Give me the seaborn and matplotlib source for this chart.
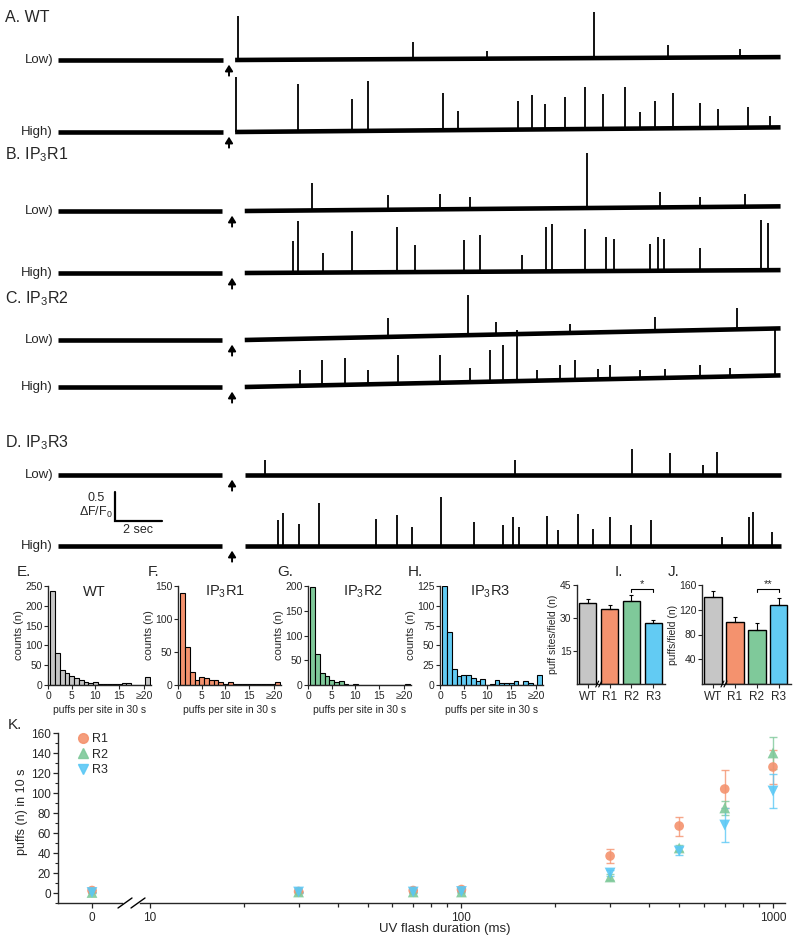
import numpy as np
import pandas as pd
import matplotlib
matplotlib.use("Agg")
import matplotlib.pyplot as plt
import seaborn as sns
from matplotlib.lines import Line2D
from matplotlib.ticker import NullFormatter, MultipleLocator, FixedLocator

# ---------------- DATA ----------------
# Traces: spike times (s after flash) and amplitudes (dF/F0)
a_low_t = [0.21, 7.66, 10.81, 15.36, 18.51, 21.57]
a_low_a = [0.76, 0.29, 0.14, 0.79, 0.22, 0.14]
a_high_t = [0.13, 2.77, 5.06, 5.74, 8.94, 9.57, 12.13, 12.72, 13.28, 14.13, 14.98, 15.74,
            16.68, 17.32, 17.96, 18.72, 19.87, 20.64, 21.91, 22.85]
a_high_a = [0.95, 0.81, 0.55, 0.86, 0.64, 0.33, 0.5, 0.6, 0.43, 0.55, 0.72, 0.6,
            0.72, 0.29, 0.47, 0.6, 0.43, 0.33, 0.36, 0.2]
b_low_t = [3.36, 6.60, 8.81, 10.09, 15.06, 18.17, 19.87, 21.79]
b_low_a = [0.47, 0.26, 0.26, 0.21, 0.95, 0.26, 0.17, 0.21]
b_high_t = [2.55, 2.77, 3.83, 5.06, 6.98, 7.74, 9.83, 10.51, 12.30, 13.32, 13.57, 14.98,
            15.87, 16.21, 17.74, 18.09, 18.34, 19.87, 22.47, 22.77]
b_high_a = [0.55, 0.9, 0.34, 0.72, 0.78, 0.47, 0.55, 0.64, 0.29, 0.76, 0.81, 0.72,
            0.59, 0.55, 0.47, 0.59, 0.55, 0.38, 0.86, 0.82]
c_low_t = [6.60, 10.0, 11.19, 14.34, 17.96, 21.45]
c_low_a = [0.33, 0.7, 0.22, 0.16, 0.25, 0.37]
c_high_t = [2.85, 3.79, 4.77, 5.74, 7.02, 8.81, 10.09, 10.94, 11.49, 12.09, 12.94, 13.91,
            14.55, 15.53, 16.04, 17.32, 18.38, 19.87, 21.15, 23.06]
c_high_a = [0.27, 0.44, 0.46, 0.24, 0.49, 0.48, 0.24, 0.55, 0.62, 0.88, 0.18, 0.26,
            0.34, 0.18, 0.24, 0.15, 0.15, 0.21, 0.15, 0.78]
d_low_t = [1.36, 12.0, 16.98, 18.60, 20.0, 20.6]
d_low_a = [0.26, 0.26, 0.45, 0.38, 0.17, 0.4]
d_high_t = [1.91, 2.13, 2.81, 3.66, 6.09, 6.98, 7.62, 8.85, 10.26, 11.49, 11.91, 12.17,
            13.36, 13.83, 14.68, 15.32, 16.04, 16.94, 17.79, 20.81, 21.96, 22.13, 22.94]
d_high_a = [0.45, 0.57, 0.38, 0.74, 0.47, 0.53, 0.33, 0.85, 0.41, 0.36, 0.5, 0.33,
            0.52, 0.28, 0.56, 0.3, 0.5, 0.37, 0.44, 0.16, 0.5, 0.58, 0.24]
trace_drift = {"A_low": 0.05, "A_high": 0.08, "B_low": 0.08, "B_high": 0.05,
               "C_low": 0.2, "C_high": 0.2, "D_low": 0.0, "D_high": 0.0}

# Histograms (puffs per site in 30 s), bins 1..20 and >=20
hist_bins = list(range(1, 22))
hist_wt = [238, 81, 37, 30, 23, 17, 12, 8, 5, 8, 3, 3, 3, 2, 2, 4, 5, 1, 1, 1, 19]
hist_r1 = [140, 57, 20, 8, 12, 11, 7, 8, 5, 2, 5, 1, 2, 1, 1, 1, 2, 1, 1, 1, 5]
hist_r2 = [198, 63, 25, 18, 10, 6, 8, 2, 1, 3, 1, 1, 1, 1, 1, 1, 1, 1, 1, 1, 3]
hist_r3 = [125, 67, 20, 11, 13, 13, 9, 5, 7, 0, 1, 6, 3, 2, 2, 5, 0, 5, 2, 0, 13]
hist_xticklabels = ["0", "5", "10", "15", "\u226520"]

# Bar charts
bar_groups = ["WT", "R1", "R2", "R3"]
sites_mean = [37, 34.2, 37.6, 27.6]
sites_err = [1.5, 1.8, 3.0, 1.5]
puffs_mean = [141, 101, 88, 128]
puffs_err = [9, 8, 10, 11]

# Panel K
durations = [0, 30, 70, 100, 300, 500, 700, 1000]
r1_mean = [2.5, 1.5, 2.5, 3.5, 37, 67, 104, 126]
r1_err = [1, 0.5, 1, 1.5, 7, 9.5, 19, 17]
r2_mean = [0.5, 1, 1, 1, 16, 45, 85, 140]
r2_err = [0.5, 0.5, 0.5, 0.5, 3, 3, 7, 16]
r3_mean = [0.5, 1, 1, 1.5, 20, 42, 68, 102]
r3_err = [0.5, 0.5, 0.5, 0.5, 3, 4, 17, 17]

# ---------------- STYLE ----------------
sns.set_theme(style="ticks")
plt.rcParams['font.family'] = ['Liberation Sans', 'DejaVu Sans']
plt.rcParams['mathtext.fontset'] = 'custom'
plt.rcParams['mathtext.rm'] = 'Liberation Sans'
plt.rcParams['mathtext.it'] = 'Liberation Sans:italic'
plt.rcParams['mathtext.bf'] = 'Liberation Sans:bold'
plt.rcParams['axes.linewidth'] = 1.0
plt.rcParams['xtick.major.width'] = 0.9
plt.rcParams['ytick.major.width'] = 0.9

C_GRAY = '#C6C6C6'
C_R1 = '#F4926E'
C_R2 = '#7FC99A'
C_R3 = '#62CBF3'

W, H = 800, 943
fig = plt.figure(figsize=(8, 9.43), dpi=100)


def box(l, t, r, b):
    return [l / W, 1 - b / H, (r - l) / W, (b - t) / H]


def ftext(x, y, s, **kw):
    kw.setdefault('va', 'center')
    fig.text(x / W, 1 - y / H, s, **kw)


# ---------------- TRACES ----------------
PX_PER_S = 23.5
PX_PER_U = 58.0
T0_PX = 233
ax_tr = fig.add_axes(box(0, 0, 800, 570))
ax_tr.set_xlim((0 - T0_PX) / PX_PER_S, (800 - T0_PX) / PX_PER_S)
ax_tr.set_ylim(-570 / PX_PER_U, 0)
ax_tr.axis('off')

T_START, T_END = -7.45, 23.3

traces = [
    ("A_low", a_low_t, a_low_a, 60, -0.43, 0.09, -0.17, "Low)"),
    ("A_high", a_high_t, a_high_a, 132, -0.43, 0.09, -0.17, "High)"),
    ("B_low", b_low_t, b_low_a, 211, -0.45, 0.5, -0.04, "Low)"),
    ("B_high", b_high_t, b_high_a, 273, -0.45, 0.5, -0.04, "High)"),
    ("C_low", c_low_t, c_low_a, 340, -0.45, 0.5, -0.04, "Low)"),
    ("C_high", c_high_t, c_high_a, 387, -0.45, 0.5, -0.04, "High)"),
    ("D_low", d_low_t, d_low_a, 475, -0.45, 0.5, -0.04, "Low)"),
    ("D_high", d_high_t, d_high_a, 546, -0.45, 0.5, -0.04, "High)"),
]

for key, ts, amps, base_px, pre_end, post_start, arrow_t, lab in traces:
    b = -base_px / PX_PER_U
    drift = trace_drift[key]
    ax_tr.plot([T_START, pre_end], [b, b], color='black', lw=3.3, solid_capstyle='butt')
    ax_tr.plot([post_start, T_END], [b, b + drift], color='black', lw=3.3, solid_capstyle='butt')
    for t, a in zip(ts, amps):
        lb = b + drift * (t - post_start) / (T_END - post_start)
        ax_tr.plot([t, t], [lb, lb + a], color='black', lw=1.3, solid_capstyle='butt')
    ax_tr.annotate('', xy=(arrow_t, b - 0.08), xytext=(arrow_t, b - 0.27),
                   arrowprops=dict(arrowstyle='-|>,head_length=0.45,head_width=0.28',
                                   color='black', lw=1.4, mutation_scale=8,
                                   shrinkA=0, shrinkB=0))
    ftext(53, base_px, lab, ha='right', fontsize=9.5)

ftext(5, 17, "A. WT", ha='left', fontsize=11.5)
ftext(5, 155, "B. IP$_3$R1", ha='left', fontsize=11.5)
ftext(5, 299, "C. IP$_3$R2", ha='left', fontsize=11.5)
ftext(5, 443, "D. IP$_3$R3", ha='left', fontsize=11.5)

# scale bar
sb_t = (115 - T0_PX) / PX_PER_S
sb_y = -521 / PX_PER_U
ax_tr.plot([sb_t, sb_t, sb_t + 2], [sb_y + 0.5, sb_y, sb_y], color='black', lw=1.6,
           solid_joinstyle='miter')
ftext(96, 498, "0.5", ha='center', fontsize=9)
ftext(113, 512, "\u0394F/F$_0$", ha='right', fontsize=9)
ftext(138, 530, "2 sec", ha='center', fontsize=9)

# ---------------- HISTOGRAMS ----------------
hist_specs = [
    (hist_wt, C_GRAY, 48, 151, 250, [0, 50, 100, 150, 200, 250], "WT", 94, "E.", 17),
    (hist_r1, C_R1, 178, 281, 150, [0, 50, 100, 150], "IP$_3$R1", 225, "F.", 148),
    (hist_r2, C_R2, 308, 411, 200, [0, 50, 100, 150, 200], "IP$_3$R2", 363, "G.", 277),
    (hist_r3, C_R3, 440, 543, 125, [0, 25, 50, 75, 100, 125], "IP$_3$R3", 490, "H.", 408),
]
edges = [0.5 + i for i in range(22)]
for counts, col, l, r, ymax, yt, title, tx, letter, lx in hist_specs:
    ax = fig.add_axes(box(l, 586, r, 685))
    hdf = pd.DataFrame({"puffs": hist_bins, "count": counts})
    sns.histplot(data=hdf, x="puffs", weights="count", bins=edges, color=col, alpha=1,
                 edgecolor='black', linewidth=0.8, ax=ax)
    ax.set_xlim(0, 21.7)
    ax.set_ylim(0, ymax)
    ax.set_yticks(yt)
    ax.set_xticks([0, 5, 10, 15, 20.3])
    ax.set_xticklabels(hist_xticklabels)
    ax.tick_params(axis='both', labelsize=7.5, length=3, width=0.8, pad=1)
    ax.set_ylabel("counts (n)", fontsize=8, labelpad=1)
    ax.set_xlabel("puffs per site in 30 s", fontsize=7.5, labelpad=3)
    sns.despine(ax=ax)
    ftext(tx, 592, title, ha='center', fontsize=10.5)
    ftext(lx, 572, letter, ha='left', fontsize=11)

# ---------------- BAR CHARTS I, J ----------------
pal = {"WT": C_GRAY, "R1": C_R1, "R2": C_R2, "R3": C_R3}
bar_specs = [
    (sites_mean, sites_err, 577, 665, 45, [15, 30, 45], "puff sites/field (n)", "*", 615, "I."),
    (puffs_mean, puffs_err, 702, 791, 160, [40, 80, 120, 160], "puffs/field (n)", "**", 668, "J."),
]
for means, errs, l, r, ymax, yt, ylab, star, lx, letter in bar_specs:
    ax = fig.add_axes(box(l, 585, r, 684))
    df = pd.DataFrame({"grp": bar_groups, "val": means})
    sns.barplot(data=df, x="grp", y="val", hue="grp", palette=pal, legend=False, saturation=1,
                edgecolor='black', linewidth=1.0, width=0.78, errorbar=None, ax=ax)
    ax.errorbar(range(4), means, yerr=[np.zeros(4), errs], fmt='none', ecolor='black',
                elinewidth=0.8, capsize=1.5, capthick=0.8)
    ax.set_xlim(-0.5, 3.55)
    ax.set_ylim(0, ymax)
    ax.set_yticks(yt)
    ax.tick_params(axis='y', labelsize=7.5, length=3, width=0.8, pad=1)
    ax.tick_params(axis='x', labelsize=8.5, length=3, width=0.8, pad=2)
    ax.set_xlabel("")
    ax.set_ylabel(ylab, fontsize=7.5, labelpad=1)
    sns.despine(ax=ax)
    # significance bracket between R2 and R3
    top = ymax * 0.955
    ax.plot([2, 2, 3, 3], [top - ymax * 0.03, top, top, top - ymax * 0.03], color='black', lw=0.8,
            clip_on=False)
    ax.text(2.5, top + ymax * 0.005, star, ha='center', va='bottom', fontsize=8)
    ftext(lx, 572, letter, ha='left', fontsize=11)
    # axis break mark between WT and R1
    bx = l + (0.5 + 0.5) / 4.05 * (r - l)
    for dx in (-1.5, 1.5):
        fig.add_artist(Line2D([(bx + dx - 1.5) / W, (bx + dx + 1.5) / W],
                              [1 - 687 / H, 1 - 681 / H], color='black', lw=0.8))

# ---------------- PANEL K ----------------
ax_k0 = fig.add_axes(box(58, 733, 122, 903))
ax_k1 = fig.add_axes(box(140, 733, 785, 903))
kdf = pd.DataFrame({
    "duration": durations * 3,
    "puffs": r1_mean + r2_mean + r3_mean,
    "err": r1_err + r2_err + r3_err,
    "receptor": ["R1"] * len(durations) + ["R2"] * len(durations) + ["R3"] * len(durations),
})
kpal = {"R1": C_R1, "R2": C_R2, "R3": '#5BC8F5'}
kmark = {"R1": "o", "R2": "^", "R3": "v"}
ksize = {"R1": 48, "R2": 60, "R3": 60}

for ax, sub in ((ax_k0, kdf[kdf.duration == 0]), (ax_k1, kdf[kdf.duration > 0])):
    for rec in ["R1", "R2", "R3"]:
        s = sub[sub.receptor == rec]
        ax.errorbar(s.duration, s.puffs, yerr=s.err, fmt='none', ecolor=kpal[rec],
                    elinewidth=1.0, capsize=3, capthick=1.0, alpha=0.8, zorder=2)
    sns.scatterplot(data=sub, x="duration", y="puffs", hue="receptor", style="receptor",
                    palette=kpal, markers=kmark, size="receptor", sizes=ksize,
                    alpha=0.9, edgecolor='none', legend=False, ax=ax, zorder=3)
    ax.set_ylim(-10, 160)
    ax.set_xlabel("")
    ax.set_ylabel("")

ax_k0.set_xlim(-1.0625, 0.9375)
ax_k0.set_xticks([0])
ax_k0.set_xticklabels(["0"])
ax_k0.yaxis.set_major_locator(FixedLocator(list(range(0, 161, 20))))
ax_k0.yaxis.set_minor_locator(MultipleLocator(10))
ax_k0.tick_params(axis='y', which='major', labelsize=8.5, length=3.5, width=0.9, pad=1.5)
ax_k0.tick_params(axis='y', which='minor', length=2, width=0.8)
ax_k0.tick_params(axis='x', labelsize=8.5, length=3.5, width=0.9, pad=3)
sns.despine(ax=ax_k0)

ax_k1.set_xscale('log')
ax_k1.set_xlim(9.29, 1093)
ax_k1.set_xticks([10, 100, 1000])
ax_k1.set_xticklabels(["10", "100", "1000"])
ax_k1.xaxis.set_minor_formatter(NullFormatter())
ax_k1.tick_params(axis='x', which='major', labelsize=8.5, length=3.5, width=0.9, pad=3)
ax_k1.tick_params(axis='x', which='minor', length=3, width=0.9)
ax_k1.set_yticks([])
sns.despine(ax=ax_k1, left=True)

for x0, x1 in ((118, 132), (131, 145)):
    fig.add_artist(Line2D([x0 / W, x1 / W], [1 - 908 / H, 1 - 898 / H], color='black', lw=1.0))

handles = [Line2D([], [], marker=kmark[r], color=kpal[r], linestyle='none', markersize=7, alpha=0.9)
           for r in ["R1", "R2", "R3"]]
fig.legend(handles, ["R1", "R2", "R3"], loc='upper left', bbox_to_anchor=(76 / W, 1 - 733 / H),
           frameon=False, fontsize=9, handletextpad=0.15, labelspacing=0.28, handlelength=1.1,
           borderaxespad=0, borderpad=0)

ftext(22, 812, "puffs (n) in 10 s", ha='center', rotation=90, fontsize=9)
ftext(445, 929, "UV flash duration (ms)", ha='center', fontsize=9.5)
ftext(8, 725, "K.", ha='left', fontsize=11)

fig.savefig("out.png", dpi=100)
